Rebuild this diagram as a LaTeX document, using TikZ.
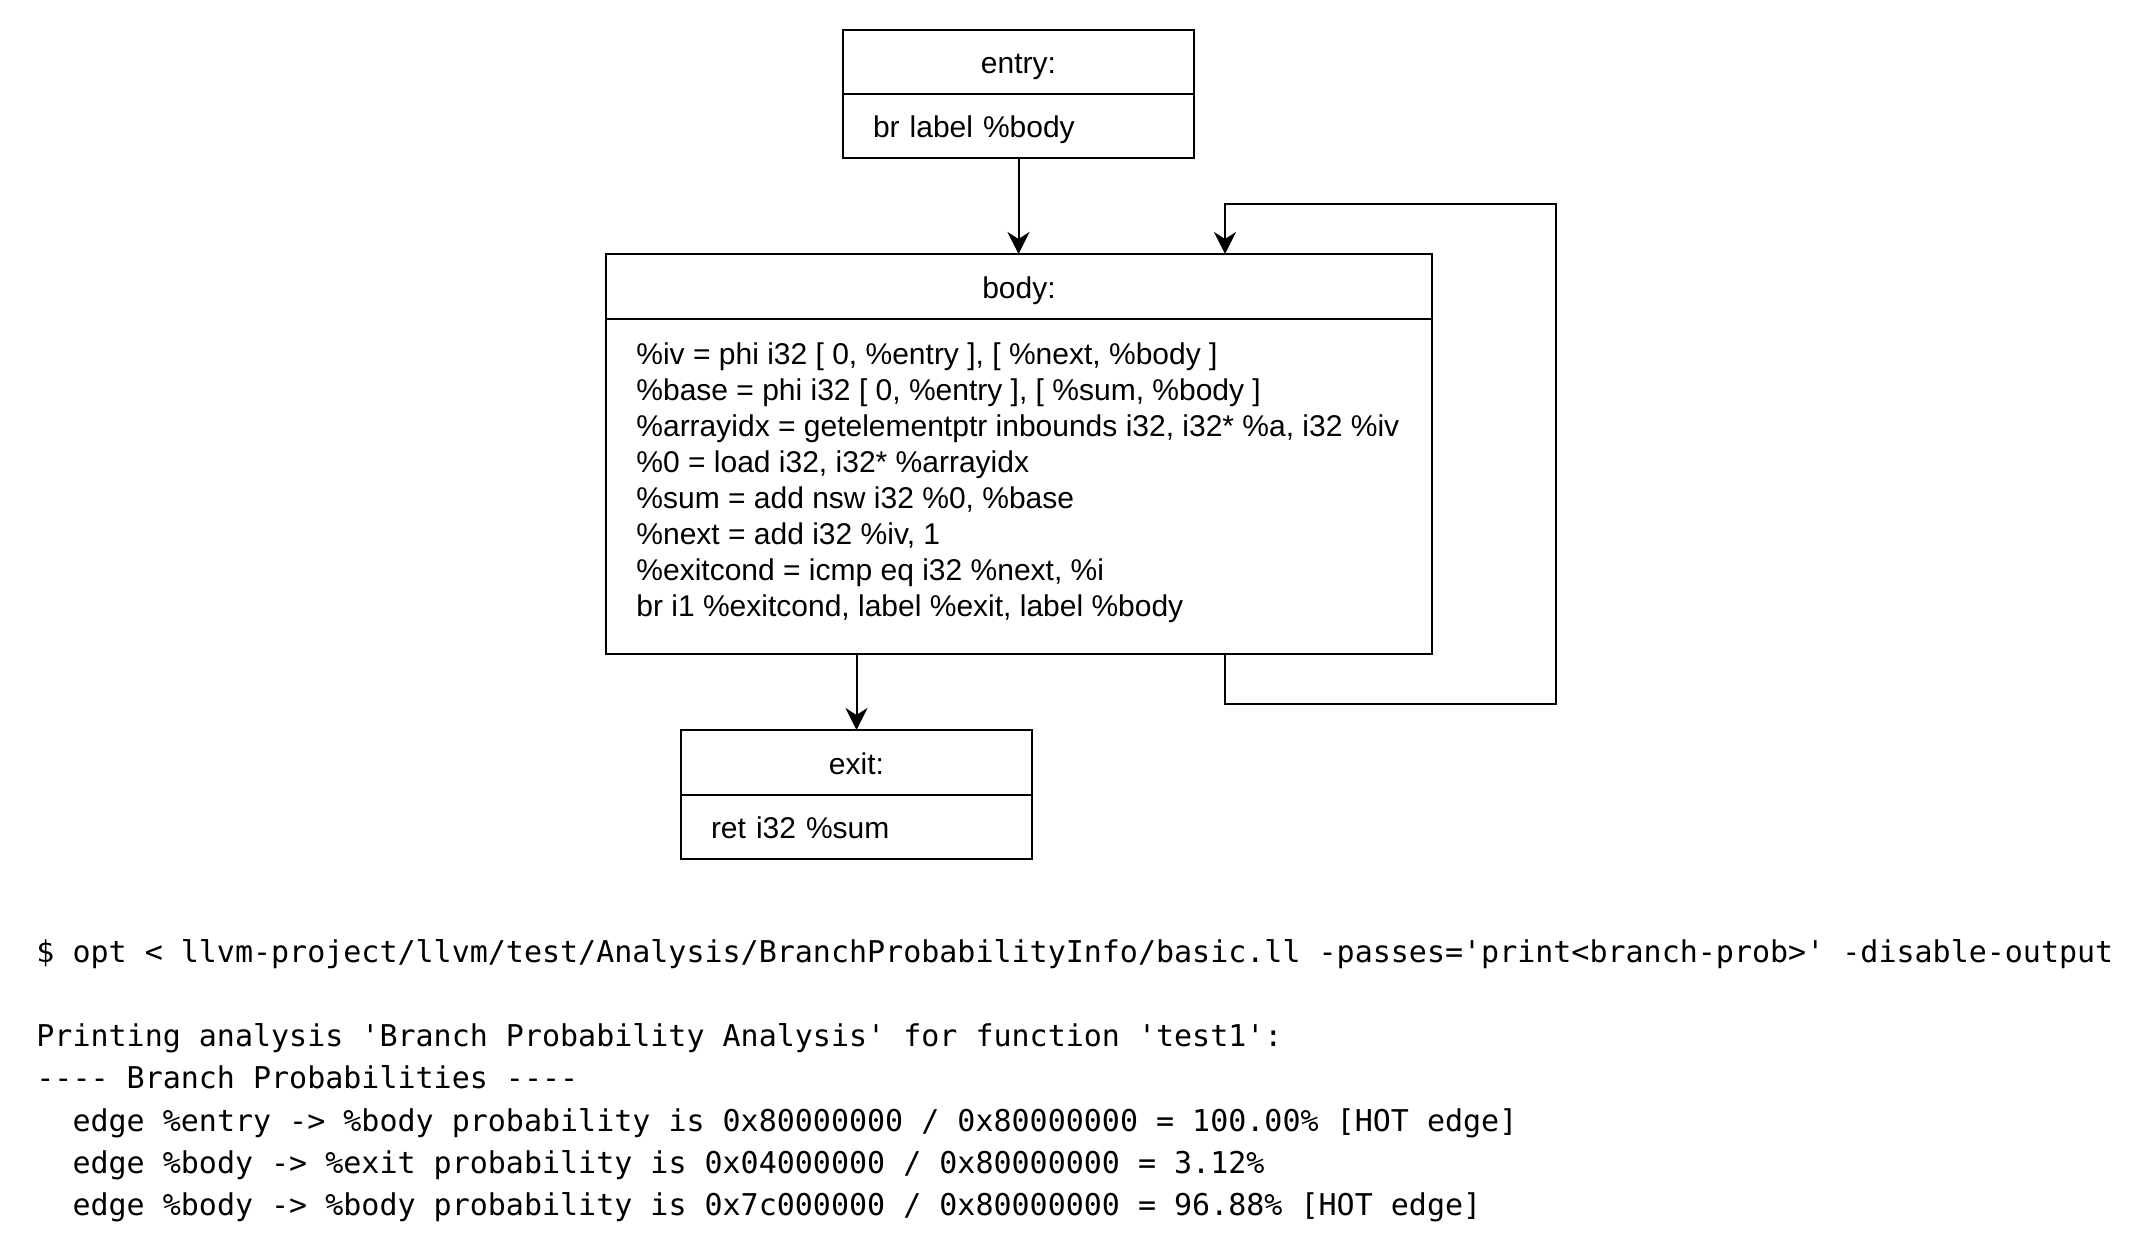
\documentclass[tikz,border=0pt]{standalone}
\usepackage{fontspec}
\setmainfont{Liberation Sans}
\setmonofont{DejaVu Sans Mono}
\usetikzlibrary{arrows.meta,positioning}

\tikzset{
  blockhead/.style={draw, line width=1pt, inner sep=0pt, outer sep=0pt,
    minimum width=175.5pt, minimum height=32pt,
    text height=15pt, text depth=3pt,
    font=\fontsize{15}{18}\selectfont},
  blockcode/.style={blockhead, text width=145.5pt, align=left},
  instr/.style={anchor=west, inner sep=0pt, align=left,
    font=\fontsize{15}{18}\selectfont},
  flow/.style={line width=1pt, -{Stealth[length=11pt,width=11pt,inset=3.5pt]}},
  console/.style={anchor=base west, inner sep=0pt,
    font=\ttfamily\fontsize{15}{18}\selectfont}
}

\begin{document}
\begin{tikzpicture}[x=0.5pt,y=-0.5pt]
  \useasboundingbox (0,0) rectangle (2154,1256);

  % basic blocks
  \node[blockhead] (entryhead) at (1018.5,62) {entry:};
  \node[blockcode, below=0pt of entryhead] (entrycode) {br label \%body};

  \node[blockhead, minimum width=413pt, minimum height=32.5pt] (bodyhead) at (1019,286.5) {body:};
  \node[blockhead, minimum width=413pt, minimum height=167.5pt, below=0pt of bodyhead] (bodycode) {};
  \node[instr] (bodyinstr) at ([xshift=15pt,yshift=2pt]bodycode.west)
    {\%iv = phi i32 [ 0, \%entry ], [ \%next, \%body ]\\
     \%base = phi i32 [ 0, \%entry ], [ \%sum, \%body ]\\
     \%arrayidx = getelementptr inbounds i32, i32* \%a, i32 \%iv\\
     \%0 = load i32, i32* \%arrayidx\\
     \%sum = add nsw i32 \%0, \%base\\
     \%next = add i32 \%iv, 1\\
     \%exitcond = icmp eq i32 \%next, \%i\\
     br i1 \%exitcond, label \%exit, label \%body};

  \node[blockhead, minimum height=32.5pt] (exithead) at (856.5,762.5) {exit:};
  \node[blockcode, below=0pt of exithead] (exitcode) {ret i32 \%sum};

  % edges
  \coordinate (loopturn) at (1556,204);
  \draw[flow] (entrycode.south) -- (entrycode.south |- bodyhead.north);
  \draw[flow] (bodycode.south -| exithead.north) -- (exithead.north);
  \draw[flow] ([xshift=103pt]bodycode.south) -- ++(0,50) -| (loopturn)
    -| ([xshift=103pt]bodyhead.north);

  % opt output
  \node[console] (cmd) at (36,962)
    {\$ opt < llvm-project/llvm/test/Analysis/BranchProbabilityInfo/basic.ll -passes='print<branch-prob>' -disable-output};
  \node[console] (out1) at (36,1046) {Printing analysis 'Branch Probability Analysis' for function 'test1':};
  \node[console] (out2) at (36,1088) {---- Branch Probabilities ----};
  \node[console] (out3) at (36,1131) {\ \ edge \%entry -> \%body probability is 0x80000000 / 0x80000000 = 100.00\% [HOT edge]};
  \node[console] (out4) at (36,1173) {\ \ edge \%body -> \%exit probability is 0x04000000 / 0x80000000 = 3.12\%};
  \node[console] (out5) at (36,1215) {\ \ edge \%body -> \%body probability is 0x7c000000 / 0x80000000 = 96.88\% [HOT edge]};
\end{tikzpicture}
\end{document}
